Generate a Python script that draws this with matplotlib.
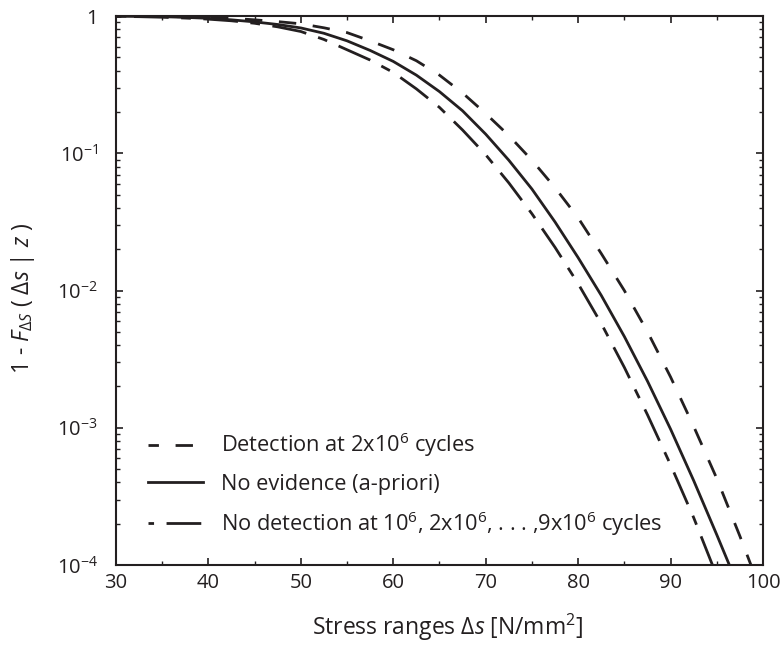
import numpy as np
import matplotlib
matplotlib.use("Agg")
from matplotlib import pyplot as plt

# stress ranges [N/mm2] and log10(1 - F)
stress = [30, 32.5, 35, 37.5, 40, 42.5, 45, 47.5, 50, 52.5, 55, 57.5, 60, 62.5,
          65, 67.5, 70, 72.5, 75, 77.5, 80, 82.5, 85, 87.5, 90, 92.5, 95, 97.5, 100]

log_detect = [-0.0005, -0.001, -0.002, -0.005, -0.009, -0.016, -0.027, -0.040, -0.056,
              -0.085, -0.12, -0.18, -0.245, -0.325, -0.43, -0.56, -0.71, -0.87, -1.05,
              -1.25, -1.47, -1.73, -2.00, -2.30, -2.63, -2.99, -3.37, -3.79, -4.23]

log_prior = [-0.001, -0.002, -0.004, -0.009, -0.016, -0.027, -0.042, -0.061, -0.086,
             -0.125, -0.18, -0.25, -0.33, -0.43, -0.55, -0.69, -0.86, -1.05, -1.26,
             -1.50, -1.76, -2.035, -2.335, -2.66, -3.01, -3.385, -3.78, -4.185, -4.6]

log_nodetect = [-0.002, -0.004, -0.008, -0.014, -0.022, -0.034, -0.052, -0.078, -0.112,
                -0.17, -0.245, -0.32, -0.41, -0.53, -0.665, -0.83, -1.01, -1.215, -1.44,
                -1.685, -1.95, -2.24, -2.56, -2.905, -3.27, -3.655, -4.08, -4.52, -4.97]

labels = ["Detection at 2x10$^6$ cycles",
          "No evidence (a-priori)",
          "No detection at 10$^6$, 2x10$^6$, . . . ,9x10$^6$ cycles"]

ink = "#231f20"
plt.rcParams["font.family"] = ["Open Sans", "DejaVu Sans"]
plt.rcParams["mathtext.fontset"] = "custom"
plt.rcParams["mathtext.rm"] = "Open Sans"
plt.rcParams["mathtext.it"] = "Open Sans:italic"
plt.rcParams["lines.scale_dashes"] = False

fig = plt.figure(figsize=(7.83, 6.45), dpi=100)
ax = fig.add_axes([0.148, 0.124, 0.8265, 0.851])

x = np.array(stress)
ax.plot(x, 10 ** np.array(log_detect), color=ink, lw=2.0,
        ls=(5, (12.5, 12)), label=labels[0])
ax.plot(x, 10 ** np.array(log_prior), color=ink, lw=2.0, label=labels[1])
ax.plot(x, 10 ** np.array(log_nodetect), color=ink, lw=2.0,
        ls=(37, (25, 9, 7, 9)), label=labels[2])

ax.set_yscale("log")
ax.set_xlim(30, 100)
ax.set_ylim(1e-4, 1)
ax.set_xticks(range(30, 101, 10))
ax.set_xticks(range(35, 100, 10), minor=True)
ax.set_yticks([1e-4, 1e-3, 1e-2, 1e-1, 1])
ax.set_yticklabels(["10$^{-4}$", "10$^{-3}$", "10$^{-2}$", "10$^{-1}$", "1"])

ax.tick_params(which="both", direction="in", top=True, right=True, colors=ink,
               labelsize=14.5)
ax.tick_params(which="major", length=5, width=1.2)
ax.tick_params(which="minor", length=3, width=1.0)
ax.tick_params(axis="x", pad=6)
ax.tick_params(axis="y", pad=13)
for sp in ax.spines.values():
    sp.set_linewidth(1.5)
    sp.set_color(ink)

ax.set_xlabel("Stress ranges Δ$s$ [N/mm$^2$]", fontsize=16.5, color=ink)
ax.set_ylabel(r"1 - $F_{\Delta S}$ ( $\Delta s$ | $z$ )", fontsize=16.5, color=ink)
ax.xaxis.set_label_coords(0.513, -0.085)
ax.yaxis.set_label_coords(-0.122, 0.486)

leg = ax.legend(loc="lower left", bbox_to_anchor=(0.02, 0.014), frameon=False,
                fontsize=15.7, handlelength=2.52, handletextpad=0.8, labelspacing=0.66,
                labelcolor=ink)

fig.savefig("out.png", dpi=100)
